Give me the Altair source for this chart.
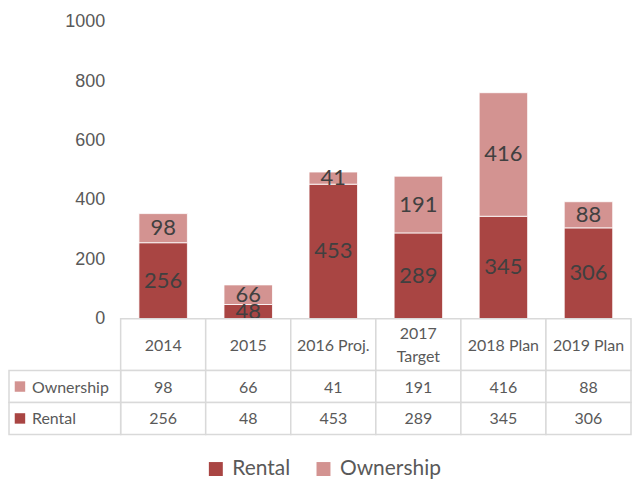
import altair as alt
import pandas as pd

categories = ["2014", "2015", "2016 Proj.", "2017 Target", "2018 Plan", "2019 Plan"]
rental = [256, 48, 453, 289, 345, 306]
ownership = [98, 66, 41, 191, 416, 88]
series = ["Rental", "Ownership"]
colors = ["#a94543", "#d39391"]
y_ticks = [0, 200, 400, 600, 800, 1000]

rows = []
for i, c in enumerate(categories):
    rows.append({"cat": c, "series": "Rental", "value": rental[i], "ord": 0})
    rows.append({"cat": c, "series": "Ownership", "value": ownership[i], "ord": 1})
df = pd.DataFrame(rows)
cat_df = pd.DataFrame({"cat": categories})
label_df = pd.DataFrame({"series": series})

FONT = "Lato"
GRID = "#d9d9d9"
TXT = "#595959"

xenc = alt.X("cat:N", sort=categories,
             scale=alt.Scale(domain=categories, paddingInner=0, paddingOuter=0),
             axis=None)
color_scale = alt.Scale(domain=series, range=colors)

base = alt.Chart(df)

bars = base.mark_bar(width=alt.RelativeBandSize(0.57), stroke="white", strokeWidth=0.8).encode(
    x=xenc,
    y=alt.Y("value:Q", stack="zero",
            scale=alt.Scale(domain=[0, 1000], nice=False),
            axis=alt.Axis(values=y_ticks, format="d", title=None, domain=False, ticks=False,
                          grid=False, labelFont="Liberation Sans", labelFontSize=18,
                          labelColor=TXT, labelPadding=16)),
    color=alt.Color("series:N", scale=color_scale,
                    legend=alt.Legend(title=None, orient="none", direction="horizontal",
                                      legendX=85, legendY=438, symbolType="square",
                                      symbolSize=196, symbolStrokeWidth=0,
                                      labelFont=FONT, labelFontSize=21, labelColor=TXT,
                                      labelOffset=6, columnPadding=22)),
    order=alt.Order("ord:Q"),
)

labels = base.transform_stack(
    stack="value", groupby=["cat"], as_=["v0", "v1"],
    sort=[alt.SortField("ord", order="ascending")]
).transform_calculate(mid="(datum.v0 + datum.v1) / 2").mark_text(
    font=FONT, fontSize=22, color="#404040", baseline="middle"
).encode(
    x=xenc,
    y=alt.Y("mid:Q"),
    text=alt.Text("value:Q"),
)

# ---- data table below the plot ----
header_cells = alt.Chart(cat_df).mark_rect(fill="white", stroke=GRID, strokeWidth=1.5).encode(
    x=xenc, y=alt.value(298), y2=alt.value(350)
)
header_single = alt.Chart(cat_df).transform_filter(
    "datum.cat != '2017 Target'"
).mark_text(font=FONT, fontSize=16, color=TXT, baseline="middle").encode(
    x=xenc, y=alt.value(325), text="cat:N"
)
header_double = alt.Chart(cat_df).transform_filter(
    "datum.cat == '2017 Target'"
).transform_calculate(
    lab="replace(datum.cat, ' ', '\\n')"
).mark_text(font=FONT, fontSize=16, color=TXT, lineBreak="\n", lineHeight=23,
            baseline="middle").encode(
    x=xenc, y=alt.value(313), text="lab:N"
)

row_pos = {"Ownership": (350, 382), "Rental": (382, 414)}
table_layers = []
for s in ["Ownership", "Rental"]:
    y0, y1 = row_pos[s]
    sub = base.transform_filter(alt.datum.series == s)
    table_layers.append(sub.mark_rect(fill="white", stroke=GRID, strokeWidth=1.5).encode(
        x=xenc, y=alt.value(y0), y2=alt.value(y1)))
    table_layers.append(sub.mark_text(font=FONT, fontSize=16, color=TXT, baseline="middle").encode(
        x=xenc, y=alt.value((y0 + y1) / 2 + 1), text="value:Q"))
    lab = alt.Chart(label_df).transform_filter(alt.datum.series == s)
    table_layers.append(lab.mark_rect(fill="white", stroke=GRID, strokeWidth=1.5).encode(
        x=alt.value(-112), x2=alt.value(0), y=alt.value(y0), y2=alt.value(y1)))
    table_layers.append(lab.mark_square(size=110, opacity=1).encode(
        x=alt.value(-101), y=alt.value((y0 + y1) / 2),
        color=alt.Color("series:N", scale=color_scale, legend=None)))
    table_layers.append(lab.mark_text(font=FONT, fontSize=16, color=TXT, align="left",
                                      baseline="middle").encode(
        x=alt.value(-89), y=alt.value((y0 + y1) / 2 + 1), text="series:N"))

chart = alt.layer(bars, labels, header_cells, header_single, header_double,
                  *table_layers).properties(
    width=512, height=298, background="white",
    padding={"left": 0, "top": 4, "right": 0, "bottom": 0}
).configure_view(strokeWidth=0, stroke="transparent")

chart.save("out.html", embed_options={"renderer": "svg", "actions": False})
